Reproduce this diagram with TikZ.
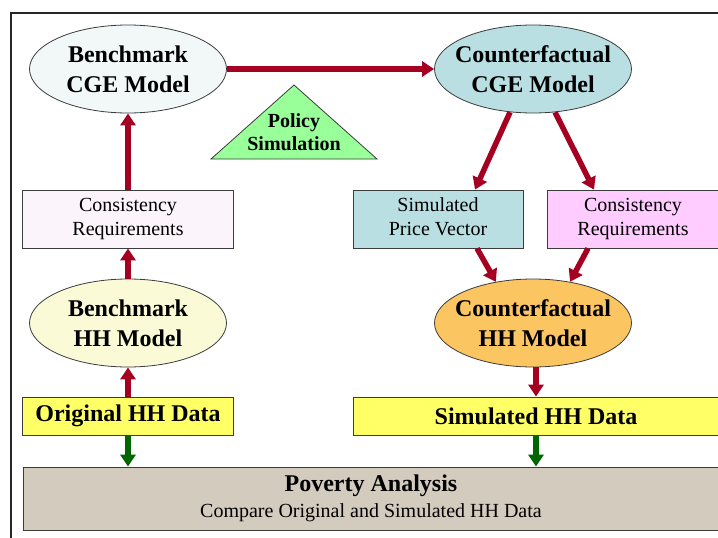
\documentclass[tikz,border=0pt]{standalone}
\usepackage{fontspec}
\setmainfont{Liberation Serif}
\usetikzlibrary{shapes.geometric,arrows.meta}
\definecolor{arrred}{RGB}{165,0,33}
\definecolor{arrgreen}{RGB}{0,102,0}
\definecolor{edgegrey}{RGB}{60,60,60}
\definecolor{benchcge}{RGB}{242,248,248}
\definecolor{cfcge}{RGB}{185,223,227}
\definecolor{benchhh}{RGB}{250,250,215}
\definecolor{cfhh}{RGB}{251,197,98}
\definecolor{datayellow}{RGB}{255,255,102}
\definecolor{povgrey}{RGB}{210,203,190}
\definecolor{lightpink}{RGB}{251,245,251}
\definecolor{pink}{RGB}{255,204,255}
\definecolor{polgreen}{RGB}{153,255,153}
\tikzset{
  model/.style={ellipse, draw=edgegrey, line width=0.8pt, inner xsep=-14pt, inner ysep=-4pt,
    minimum width=197pt, minimum height=88pt, align=center,
    font=\fontsize{24}{30}\selectfont\bfseries},
  infobox/.style={rectangle, draw=edgegrey, line width=0.8pt, inner sep=0pt,
    minimum height=58pt, align=center, font=\fontsize{20}{24}\selectfont},
  databox/.style={rectangle, draw=edgegrey, line width=0.8pt, inner sep=0pt,
    fill=datayellow, minimum height=38pt, align=center,
    font=\fontsize{24}{30}\selectfont\bfseries},
  redarrow/.style={draw=arrred, line width=5.5pt, -{Triangle[width=15pt,length=12pt]}},
  greenarrow/.style={draw=arrgreen, line width=5.5pt, -{Triangle[width=15pt,length=12pt]}},
  frameline/.style={draw=black!85, line width=1.4pt}
}
\begin{document}
\begin{tikzpicture}[x=1pt,y=-1pt]
\useasboundingbox (0,0) rectangle (718,538);
\fill[white] (0,0) rectangle (718,538);
% frame
\coordinate (ftl) at (11,13);
\coordinate (ftr) at (720,13);
\coordinate (fbl) at (11,540);
\draw[frameline] (ftr) -- (ftl) -- (fbl);

% ellipses
\node[model, fill=benchcge] (bcge) at (128,69) {Benchmark\\CGE Model};
\node[model, fill=cfcge] (ccge) at (533,69) {Counterfactual\\CGE Model};
\node[model, fill=benchhh] (bhh) at (128,323) {Benchmark\\HH Model};
\node[model, fill=cfhh] (chh) at (533,323) {Counterfactual\\HH Model};

% boxes
\node[infobox, fill=lightpink, minimum width=211pt] (cr1) at (128,219) {\strut Consistency\\\strut Requirements};
\node[infobox, fill=cfcge, minimum width=170pt] (spv) at (438,219) {\strut Simulated\\\strut Price Vector};
\node[infobox, fill=pink, minimum width=172pt] (cr2) at (633,219) {\strut Consistency\\\strut Requirements};
\node[databox, minimum width=211pt] (ohh) at (128,416) {Original HH Data};
\node[databox, minimum width=366pt] (shh) at (536,416) {Simulated HH Data};
\node[rectangle, draw=edgegrey, line width=0.8pt, fill=povgrey, inner sep=0pt,
  minimum width=696pt, minimum height=63pt, align=center] (pov) at (371,498.5)
  {{\fontsize{24}{26}\selectfont\bfseries Poverty Analysis}\\[6pt]
   {\fontsize{20}{24}\selectfont Compare Original and Simulated HH Data}};

% policy triangle
\coordinate (tapex) at (294,85);
\coordinate (tbl) at (211,159);
\coordinate (tbr) at (377,159);
\draw[draw=edgegrey, line width=0.8pt, fill=polgreen] (tapex) -- (tbr) -- (tbl) -- cycle;
\node[align=center, inner sep=0pt, font=\fontsize{20}{23}\selectfont\bfseries] (pol) at (294,132) {Policy\\Simulation};

% arrows
\draw[redarrow] (bcge.east) -- (ccge.west);
\draw[redarrow] (cr1.north) -- (bcge.south);
\draw[redarrow] (bhh.north) -- (cr1.south);
\draw[redarrow] (ohh.north) -- (bhh.south);
\draw[redarrow] (ccge.242) -- ([xshift=37pt]spv.north);
\draw[redarrow] (ccge.297) -- ([xshift=-39pt]cr2.north);
\draw[redarrow] ([xshift=39pt]spv.south) -- (chh.132);
\draw[redarrow] ([xshift=-45pt]cr2.south) -- (chh.48);
\draw[redarrow] (chh.south -| shh.north) -- (shh.north);
\draw[greenarrow] (ohh.south) -- (ohh.south |- pov.north);
\draw[greenarrow] (shh.south) -- (shh.south |- pov.north);
\end{tikzpicture}
\end{document}
